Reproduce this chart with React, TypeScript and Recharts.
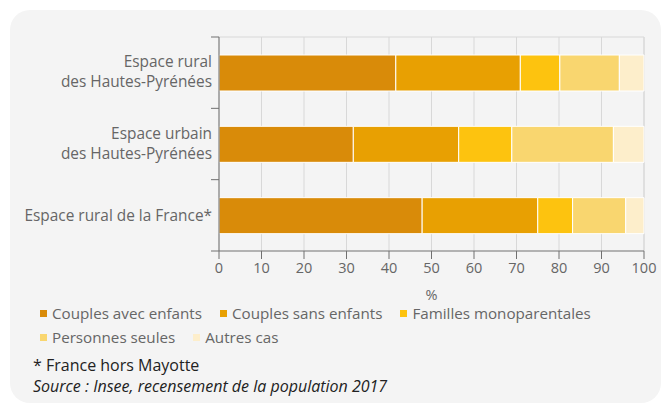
import React from 'react';
import {
  BarChart,
  Bar,
  XAxis,
  YAxis,
  CartesianGrid,
  Legend,
} from 'recharts';

const categories = [
  'Espace rural\ndes Hautes-Pyrénées',
  'Espace urbain\ndes Hautes-Pyrénées',
  'Espace rural de la France*',
];
const couplesAvecEnfants = [41.6, 31.6, 47.8];
const couplesSansEnfants = [29.3, 24.8, 27.2];
const famillesMono = [9.3, 12.5, 8.2];
const personnesSeules = [14.0, 23.9, 12.5];
const autresCas = [5.8, 7.2, 4.3];
const xTicks = [0, 10, 20, 30, 40, 50, 60, 70, 80, 90, 100];

const seriesNames = [
  'Couples avec enfants',
  'Couples sans enfants',
  'Familles monoparentales',
  'Personnes seules',
  'Autres cas',
];
const seriesKeys = ['avec', 'sans', 'mono', 'seules', 'autres'];
const colors = ['#d98b09', '#e8a002', '#fdc30f', '#f9d66f', '#fdeecb'];

const data = categories.map((c, i) => ({
  name: c,
  avec: couplesAvecEnfants[i],
  sans: couplesSansEnfants[i],
  mono: famillesMono[i],
  seules: personnesSeules[i],
  autres: autresCas[i],
}));

const FONT = "'Open Sans', sans-serif";
const TEXT = '#666';
const AXIS = '#707070';
const BAND = 214 / 3;

function CategoryTick(props: any) {
  const { y, payload, index } = props;
  const lines = String(payload.value).split('\n');
  const axisX = 219;
  const lh = 20;
  const startY = y - ((lines.length - 1) * lh) / 2 - (lines.length > 1 ? 1.5 : 0);
  return (
    <g>
      <line x1={axisX - 8} x2={axisX} y1={y - BAND / 2} y2={y - BAND / 2} stroke={AXIS} />
      {index === categories.length - 1 && (
        <line x1={axisX - 8} x2={axisX} y1={y + BAND / 2} y2={y + BAND / 2} stroke={AXIS} />
      )}
      <text
        x={axisX - 7}
        y={startY}
        textAnchor="end"
        dominantBaseline="central"
        fill={TEXT}
        fontSize={15.4}
        fontFamily={FONT}
      >
        {lines.map((l, i) => (
          <tspan key={i} x={axisX - 7} dy={i === 0 ? 0 : lh}>
            {l}
          </tspan>
        ))}
      </text>
    </g>
  );
}

function LegendContent() {
  const rows = [
    [0, 1, 2],
    [3, 4],
  ];
  return (
    <div
      style={{
        height: 48,
        width: 620,
        fontFamily: FONT,
        fontSize: 15.2,
        color: TEXT,
        whiteSpace: 'nowrap',
      }}
    >
      {rows.map((row, ri) => (
        <div key={ri} style={{ display: 'flex', height: 24, alignItems: 'center' }}>
          {row.map((si) => (
            <div
              key={si}
              style={{ display: 'flex', alignItems: 'center', marginRight: 18, flexShrink: 0 }}
            >
              <span
                style={{
                  display: 'inline-block',
                  width: 7,
                  height: 7,
                  background: colors[si],
                  marginRight: 5,
                  flexShrink: 0,
                }}
              />
              <span style={{ lineHeight: '20px' }}>{seriesNames[si]}</span>
            </div>
          ))}
        </div>
      ))}
    </div>
  );
}

export default function App() {
  return (
    <div
      style={{
        position: 'absolute',
        left: 0,
        top: 0,
        width: 662,
        height: 408,
        background: '#fff',
        overflow: 'hidden',
        fontFamily: FONT,
      }}
    >
      <div
        style={{
          position: 'absolute',
          left: 10,
          top: 10,
          width: 651,
          height: 393,
          background: '#f4f4f4',
          borderRadius: 20,
        }}
      />
      <div style={{ position: 'absolute', left: 0, top: 0 }}>
        <BarChart
          width={662}
          height={349}
          data={data}
          layout="vertical"
          margin={{ top: 37, right: 18, left: 19, bottom: 0 }}
          style={{ fontFamily: FONT }}
        >
          <CartesianGrid
            stroke="#d8d8d8"
            horizontalCoordinatesGenerator={({ offset }: any) => [offset.top]}
          />
          <XAxis
            type="number"
            domain={[0, 100]}
            ticks={xTicks}
            interval={0}
            height={50}
            axisLine={{ stroke: AXIS }}
            tickLine={{ stroke: AXIS }}
            tickSize={8}
            tickMargin={4}
            tick={{ fill: TEXT, fontSize: 14.5, fontFamily: FONT }}
            label={{
              value: '%',
              position: 'insideBottom',
              offset: 1,
              fill: TEXT,
              fontSize: 14.5,
              fontFamily: FONT,
            }}
          />
          <YAxis
            type="category"
            dataKey="name"
            width={200}
            axisLine={{ stroke: AXIS }}
            tickLine={false}
            interval={0}
            tick={<CategoryTick />}
          />
          <Legend
            verticalAlign="bottom"
            content={<LegendContent />}
            wrapperStyle={{ left: 40, width: 620 }}
          />
          {seriesKeys.map((k, i) => (
            <Bar
              key={k}
              dataKey={k}
              name={seriesNames[i]}
              stackId="a"
              fill={colors[i]}
              stroke="#fff"
              strokeWidth={1}
              barSize={36}
              isAnimationActive={false}
            />
          ))}
        </BarChart>
      </div>
      <div
        style={{
          position: 'absolute',
          left: 33,
          top: 355,
          fontSize: 16,
          lineHeight: '21px',
          color: '#222',
        }}
      >
        <div>* France hors Mayotte</div>
        <div style={{ fontStyle: 'italic' }}>Source : Insee, recensement de la population 2017</div>
      </div>
    </div>
  );
}
